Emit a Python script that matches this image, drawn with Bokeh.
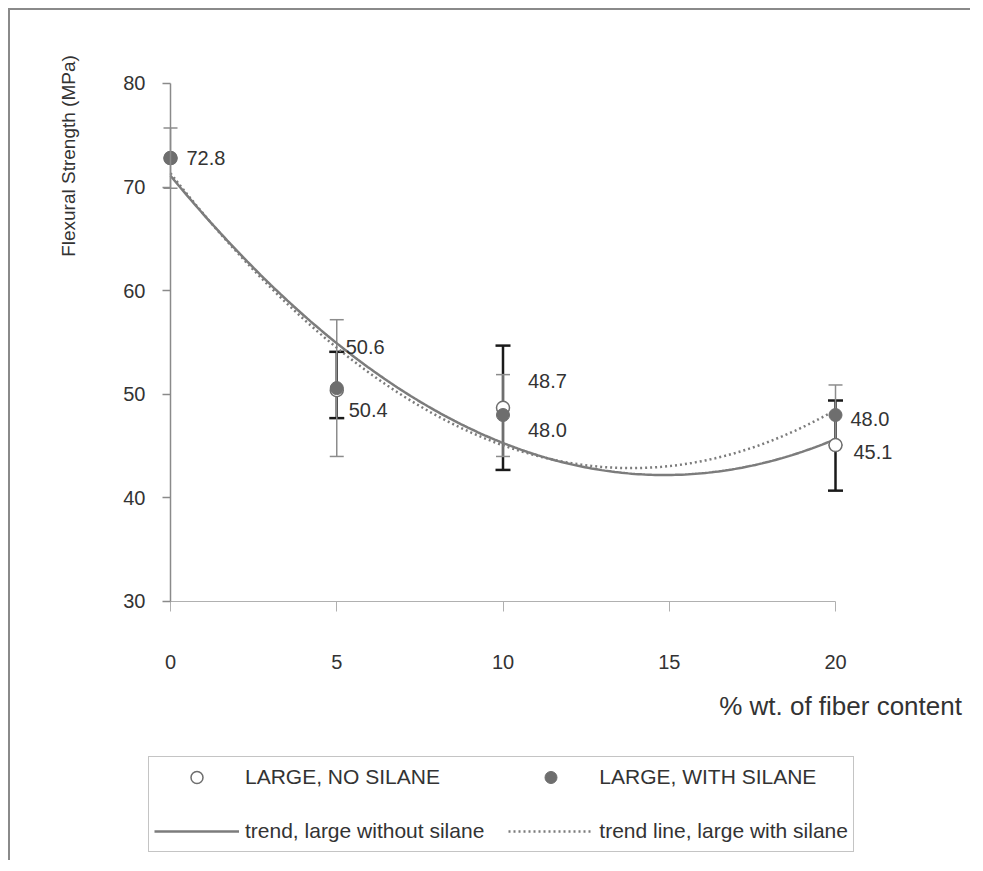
import numpy as np
from bokeh.plotting import figure
from bokeh.core.properties import value
from bokeh.models import (Range1d, LinearAxis, FixedTicker, ColumnDataSource, Whisker,
                          TeeHead, LabelSet, Label, Legend, LegendItem)
from bokeh.embed import file_html
from bokeh.resources import INLINE

# ---------------- data ----------------
fiber = [0, 5, 10, 20]
no_silane = [72.8, 50.4, 48.7, 45.1]
with_silane = [72.8, 50.6, 48.0, 48.0]

# error bar limits
no_silane_x = [5, 10, 20]
no_silane_lower = [47.7, 42.7, 40.7]
no_silane_upper = [54.1, 54.7, 49.4]
with_silane_lower = [69.9, 44.0, 44.0, 45.1]
with_silane_upper = [75.7, 57.2, 51.9, 50.9]

x_ticks = [0, 5, 10, 15, 20]
y_ticks = [30, 40, 50, 60, 70, 80]

series_names = ["LARGE, NO SILANE", "LARGE, WITH SILANE"]
trend_names = ["trend, large without silane", "trend line, large with silane"]
x_title = "% wt. of fiber content"
y_title = "Flexural Strength (MPa)"

# label placement (pixel offsets: style only)
no_lab_dx = [12, 25, 18]
no_lab_dy = [-20, 27, -7]
with_lab_dx = [16, 9, 25, 15]
with_lab_dy = [0, 41, -15, -4]

FONT = "Liberation Sans"
TXT = "#333333"

p = figure(frame_width=960, frame_height=850,
           x_range=Range1d(-4.812, 24.06), y_range=Range1d(5.0, 87.046),
           output_backend="svg", toolbar_location=None, title=None,
           min_border=0, min_border_left=0, min_border_right=0,
           min_border_top=0, min_border_bottom=0,
           x_axis_location=None, y_axis_location=None)
p.grid.visible = False
p.outline_line_color = None
p.background_fill_color = "white"
p.border_fill_color = "white"
p.styles = {"border-top": "2px solid #8a8a8a", "border-left": "2px solid #8a8a8a",
            "margin-left": "8px", "margin-top": "8px"}

# axes
xaxis = LinearAxis(fixed_location=30, bounds=(0, 20), ticker=FixedTicker(ticks=x_ticks))
xaxis.axis_line_color = "#b0b0b0"
xaxis.axis_line_width = 1
xaxis.major_tick_line_color = "#b0b0b0"
xaxis.major_tick_out = 10
xaxis.major_tick_in = 0
xaxis.minor_tick_line_color = None
xaxis.major_label_standoff = 44
xaxis.major_label_text_font = FONT
xaxis.major_label_text_font_size = "20px"
xaxis.major_label_text_color = TXT
p.add_layout(xaxis, "below")

yaxis = LinearAxis(fixed_location=0, bounds=(30, 80), ticker=FixedTicker(ticks=y_ticks))
yaxis.axis_line_color = "#8a8a8a"
yaxis.axis_line_width = 1.5
yaxis.major_tick_line_color = "#8a8a8a"
yaxis.major_tick_line_width = 1.5
yaxis.major_tick_out = 8
yaxis.major_tick_in = 0
yaxis.minor_tick_line_color = None
yaxis.major_label_standoff = 17
yaxis.major_label_text_font = FONT
yaxis.major_label_text_font_size = "20px"
yaxis.major_label_text_color = TXT
p.add_layout(yaxis, "left")

# error bars (black: no silane, gray: with silane)
src_no_err = ColumnDataSource(dict(x=no_silane_x, lower=no_silane_lower, upper=no_silane_upper))
src_with_err = ColumnDataSource(dict(x=fiber, lower=with_silane_lower, upper=with_silane_upper))

w_black = Whisker(base="x", lower="lower", upper="upper", source=src_no_err, dimension="height",
                  line_color="#1a1a1a", line_width=2.5,
                  upper_head=TeeHead(size=15, line_color="#1a1a1a", line_width=2.5),
                  lower_head=TeeHead(size=15, line_color="#1a1a1a", line_width=2.5))
w_gray = Whisker(base="x", lower="lower", upper="upper", source=src_with_err, dimension="height",
                 line_color="#8c8c8c", line_width=1.5,
                 upper_head=TeeHead(size=14, line_color="#8c8c8c", line_width=1.5),
                 lower_head=TeeHead(size=14, line_color="#8c8c8c", line_width=1.5))
p.add_layout(w_black)
p.add_layout(w_gray)

# trend lines (2nd-order polynomial fits of the data, like the original trendlines)
xs = np.linspace(0, 20, 200)
c_no = np.polyfit(fiber, no_silane, 2)
c_with = np.polyfit(fiber, with_silane, 2)
r_trend_no = p.line(xs, np.polyval(c_no, xs), line_color="#7c7c7c", line_width=2.5)
r_trend_with = p.line(xs, np.polyval(c_with, xs), line_color="#7c7c7c", line_width=2.5,
                      line_dash="2 3")

# markers
src_no = ColumnDataSource(dict(x=fiber, y=no_silane))
src_with = ColumnDataSource(dict(x=fiber, y=with_silane))
r_no = p.scatter("x", "y", source=src_no, marker="circle", size=13,
                 fill_color="white", line_color="#6e6e6e", line_width=1.5)
r_with = p.scatter("x", "y", source=src_with, marker="circle", size=13,
                   fill_color="#6e6e6e", line_color="#6e6e6e", line_width=1)

# data labels
lab_no = ColumnDataSource(dict(x=fiber[1:], y=no_silane[1:],
                               t=[f"{v:.1f}" for v in no_silane[1:]],
                               dx=no_lab_dx, dy=no_lab_dy))
lab_with = ColumnDataSource(dict(x=fiber, y=with_silane,
                                 t=[f"{v:.1f}" for v in with_silane],
                                 dx=with_lab_dx, dy=with_lab_dy))
for src in (lab_no, lab_with):
    p.add_layout(LabelSet(x="x", y="y", text="t", source=src, x_offset="dx", y_offset="dy",
                          text_font=value(FONT), text_font_size=value("20px"),
                          text_color=value(TXT),
                          text_align="left", text_baseline="middle"))

# axis titles
p.add_layout(Label(x=16.5, y=19.9, text=x_title, text_font=FONT, text_font_size="26px",
                   text_color=TXT, text_align="left", text_baseline="middle"))
p.add_layout(Label(x=-3.07, y=73.0, text=y_title, text_font=FONT, text_font_size="19px",
                   text_color=TXT, text_align="center", text_baseline="middle",
                   angle=np.pi / 2))

# legend
legend = Legend(items=[
    LegendItem(label=series_names[0], renderers=[r_no]),
    LegendItem(label=series_names[1], renderers=[r_with]),
    LegendItem(label=trend_names[0], renderers=[r_trend_no]),
    LegendItem(label=trend_names[1], renderers=[r_trend_with]),
], location=(138, 8), orientation="horizontal", ncols=2,
    glyph_width=85, glyph_height=30, label_standoff=6, spacing=24, padding=5, margin=0,
    label_text_font=FONT, label_text_font_size="21px", label_text_color=TXT,
    border_line_color="#8a8a8a", border_line_width=1, background_fill_color="white")
p.add_layout(legend, "center")

open("out.html", "w").write(file_html(p, INLINE))
